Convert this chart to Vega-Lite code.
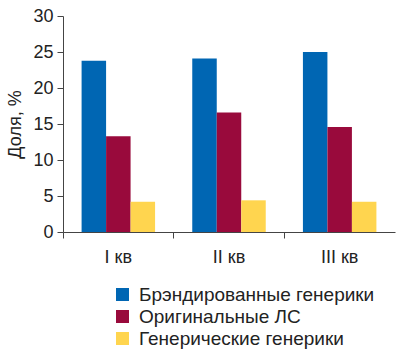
{
  "$schema": "https://vega.github.io/schema/vega-lite/v6.json",
  "width": 332,
  "height": 216,
  "autosize": "none",
  "padding": {"left": 63, "top": 16, "right": 5, "bottom": 121},
  "background": "white",
  "data": {"values": [
    {"q": "I кв", "s": "Брэндированные генерики", "v": 23.8},
    {"q": "I кв", "s": "Оригинальные ЛС", "v": 13.3},
    {"q": "I кв", "s": "Генерические генерики", "v": 4.2},
    {"q": "II кв", "s": "Брэндированные генерики", "v": 24.1},
    {"q": "II кв", "s": "Оригинальные ЛС", "v": 16.6},
    {"q": "II кв", "s": "Генерические генерики", "v": 4.4},
    {"q": "III кв", "s": "Брэндированные генерики", "v": 25.0},
    {"q": "III кв", "s": "Оригинальные ЛС", "v": 14.6},
    {"q": "III кв", "s": "Генерические генерики", "v": 4.2}
  ]},
  "config": {
    "font": "Liberation Sans",
    "view": {"stroke": null},
    "axis": {"grid": false, "domainColor": "#444", "tickColor": "#444", "labelColor": "#222", "titleColor": "#222", "labelFontSize": 18, "labelFont": "Liberation Sans", "titleFont": "Liberation Sans", "titleFontWeight": "normal", "titleFontSize": 18}
  },
  "mark": {"type": "bar"},
  "encoding": {
    "x": {"field": "q", "type": "nominal", "sort": ["I кв", "II кв", "III кв"],
      "scale": {"paddingInner": 0.336, "paddingOuter": 0.168},
      "axis": {"title": null, "labelAngle": 0, "bandPosition": -0.253, "tickSize": 6, "labelPadding": 10}},
    "xOffset": {"field": "s", "type": "nominal", "sort": ["Брэндированные генерики", "Оригинальные ЛС", "Генерические генерики"], "scale": {"paddingInner": 0, "paddingOuter": 0}},
    "y": {"field": "v", "type": "quantitative", "scale": {"domain": [0, 30]},
      "axis": {"title": "Доля, %", "values": [0, 5, 10, 15, 20, 25, 30], "tickSize": 6, "labelPadding": 4, "titlePadding": 8}},
    "color": {"field": "s", "type": "nominal", "sort": ["Брэндированные генерики", "Оригинальные ЛС", "Генерические генерики"],
      "scale": {"range": ["#0066B3", "#990A3C", "#FFD54F"]},
      "legend": {"title": null, "orient": "none", "legendX": 50, "legendY": 269, "direction": "vertical", "symbolType": "square", "symbolSize": 170, "symbolStrokeWidth": 0, "labelFontSize": 19, "labelLimit": 0, "labelColor": "#222", "rowPadding": 2, "labelOffset": 7}}
  }
}
